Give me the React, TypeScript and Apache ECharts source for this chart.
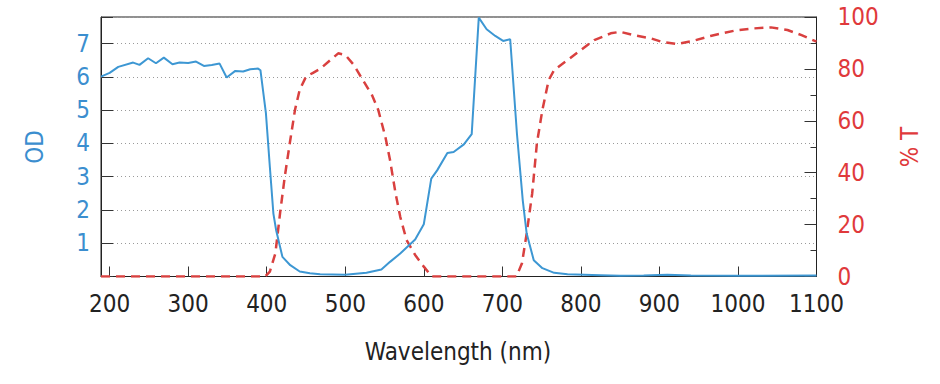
import React, { useEffect, useRef } from "react";
import * as echarts from "echarts";

// Optical density (left axis)
const odWavelengths = [189, 200, 211, 230, 238, 249, 259, 269, 280, 289, 300, 310, 320, 330, 340, 349, 360, 370, 379, 389, 392, 399, 404, 408.5, 412, 420, 430, 442, 455, 468, 500, 527, 546, 557, 570, 589, 600, 609.5, 617, 630, 638, 651, 661, 670, 680, 691, 701, 710, 718.6, 726, 731, 740, 751, 766, 783, 825, 850, 880, 910, 940, 1000, 1100];
const odValues = [6.01, 6.12, 6.3, 6.43, 6.36, 6.56, 6.41, 6.58, 6.38, 6.43, 6.42, 6.46, 6.33, 6.36, 6.4, 5.98, 6.18, 6.16, 6.23, 6.25, 6.2, 4.9, 3.29, 1.89, 1.39, 0.59, 0.34, 0.15, 0.1, 0.07, 0.05, 0.11, 0.21, 0.44, 0.69, 1.11, 1.57, 2.94, 3.19, 3.71, 3.74, 3.97, 4.28, 7.78, 7.43, 7.23, 7.08, 7.13, 4.29, 2.29, 1.29, 0.49, 0.25, 0.11, 0.07, 0.04, 0.02, 0.03, 0.05, 0.03, 0.02, 0.03];

// Transmission % (right axis)
const tWavelengths = [189, 398, 404, 411, 417, 423, 430, 436, 442, 450, 459, 468, 481, 491, 500, 511, 521, 534, 542, 551, 557, 564, 570, 578, 589, 600, 610, 718, 725, 731, 738, 744, 751, 759, 766, 783, 800, 817, 838, 850, 867, 889, 902, 923, 944, 965, 995, 1020, 1042, 1063, 1081, 1100];
const tValues = [0, 0, 1.9, 8.9, 24.4, 38.5, 52.6, 64.2, 72, 77, 78.5, 80, 83.4, 86, 85.4, 81.5, 76.4, 69.9, 64.2, 53.9, 44.9, 32.1, 23, 14.1, 8.3, 3.8, 0, 0, 5.1, 16.6, 32, 51.3, 64.2, 75.7, 79.6, 83.4, 87.3, 91.1, 93.7, 94.3, 93, 91.8, 90.5, 89.6, 90.9, 92.7, 94.7, 95.6, 96, 95, 93, 90.5];

const xTickValues = [200, 300, 400, 500, 600, 700, 800, 900, 1000];
const xLabelValues = [200, 300, 400, 500, 600, 700, 800, 900, 1000, 1100];

const FONT = "'DejaVu Sans Condensed', 'DejaVu Sans', sans-serif";
const FS = 24;
const BLUE = "#3d97d3";
const BLUE_TEXT = "#3b8ecf";
const RED = "#d9403f";
const RED_TEXT = "#e0393b";

export default function App() {
  const ref = useRef<HTMLDivElement>(null);
  useEffect(() => {
    if (!ref.current) return;
    const chart = echarts.init(ref.current, null, { renderer: "svg" });
    const odData = odWavelengths.map((w, i) => [w, odValues[i]]);
    const tData = tWavelengths.map((w, i) => [w, tValues[i]]);
    chart.setOption({
      animation: false,
      backgroundColor: "#ffffff",
      grid: {
        left: 101,
        right: 123.5,
        top: 17,
        bottom: 107.5,
        show: true,
        borderColor: "#222",
        borderWidth: 1,
        backgroundColor: "transparent",
      },
      xAxis: {
        type: "value",
        min: 189,
        max: 1100,
        axisLine: { show: true, onZero: false, lineStyle: { color: "#222", width: 1 } },
        axisTick: { show: true, inside: true, length: 10, customValues: xTickValues, lineStyle: { color: "#333" } },
        axisLabel: {
          customValues: xLabelValues,
          color: "#222",
          fontSize: FS,
          fontFamily: FONT,
          margin: 15,
          formatter: (v: number) => String(v),
        },
        splitLine: { show: false },
      },
      yAxis: [
        {
          type: "value",
          min: 0,
          max: 7.8,
          interval: 1,
          position: "left",
          axisLine: { show: true, lineStyle: { color: "#222" } },
          axisTick: { show: true, inside: true, length: 12, lineStyle: { color: "#333" } },
          axisLabel: {
            color: BLUE_TEXT,
            fontSize: FS,
            fontFamily: FONT,
            margin: 11,
            formatter: (v: number) => (Number.isInteger(v) && v >= 1 && v <= 7 ? String(v) : ""),
          },
          splitLine: { show: true, lineStyle: { color: "#9a9a9a", type: [1, 3], width: 1 } },
        },
        {
          type: "value",
          min: 0,
          max: 100,
          interval: 20,
          position: "right",
          axisLine: { show: true, lineStyle: { color: "#222" } },
          axisTick: { show: true, inside: true, length: 12, lineStyle: { color: "#333" } },
          minorTick: { show: true, splitNumber: 2, length: 6, lineStyle: { color: "#333" } },
          axisLabel: { color: RED_TEXT, fontSize: FS, fontFamily: FONT, margin: 21, formatter: (v: number) => String(v) },
          splitLine: { show: false },
        },
      ],
      graphic: [
        {
          type: "text",
          x: 35,
          y: 147,
          rotation: Math.PI / 2,
          style: { text: "OD", fill: BLUE_TEXT, fontSize: FS, fontFamily: FONT, align: "center", verticalAlign: "middle" },
        },
        {
          type: "text",
          x: 910,
          y: 147,
          rotation: Math.PI / 2,
          style: { text: "% T", fill: RED_TEXT, fontSize: FS, fontFamily: FONT, align: "center", verticalAlign: "middle" },
        },
        {
          type: "text",
          x: 458,
          y: 352,
          style: { text: "Wavelength (nm)", fill: "#222", fontSize: FS, fontFamily: FONT, align: "center", verticalAlign: "middle" },
        },
      ],
      series: [
        {
          name: "% T",
          type: "line",
          yAxisIndex: 1,
          data: tData,
          symbol: "none",
          lineStyle: { color: RED, width: 2.5, type: [9, 6] },
          z: 2,
        },
        {
          name: "OD",
          type: "line",
          yAxisIndex: 0,
          data: odData,
          symbol: "none",
          lineStyle: { color: BLUE, width: 2 },
          z: 3,
        },
      ],
    });
    return () => chart.dispose();
  }, []);
  return <div ref={ref} style={{ position: "fixed", left: 0, top: 0, width: 940, height: 384 }} />;
}
